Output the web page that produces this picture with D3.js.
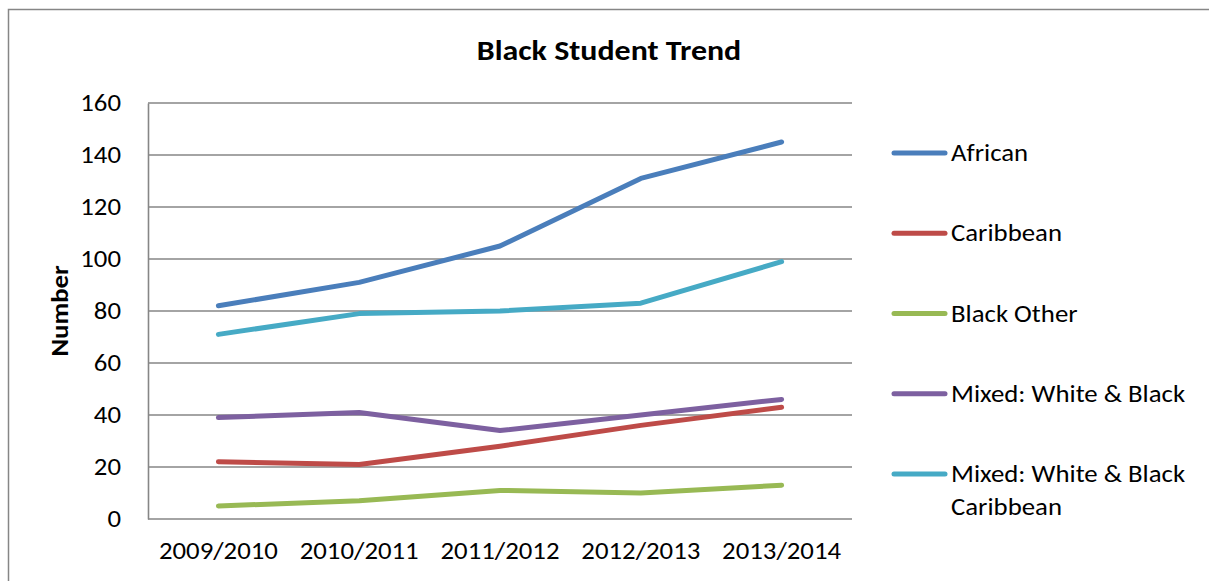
<!DOCTYPE html>
<html>
<head>
<meta charset="utf-8">
<script src="https://cdn.jsdelivr.net/npm/d3@7"></script>
<style>
  html, body { margin: 0; padding: 0; background: #fff; }
  svg text { font-family: Carlito, Calibri, Lato, sans-serif; fill: #000; }
</style>
</head>
<body>
<svg id="chart" width="1209" height="581"></svg>
<script>
/* ===== Data ===== */
const years = ["2009/2010", "2010/2011", "2011/2012", "2012/2013", "2013/2014"];
const seriesNames = ["African", "Caribbean", "Black Other", "Mixed: White & Black", "Mixed: White & Black Caribbean"];
const african = [82, 91, 105, 131, 145];
const caribbean = [22, 21, 28, 36, 43];
const blackOther = [5, 7, 11, 10, 13];
const mixedWB = [39, 41, 34, 40, 46];
const mixedWBC = [71, 79, 80, 83, 99];
const yTicks = [0, 20, 40, 60, 80, 100, 120, 140, 160];
const colors = ["#4a7ebb", "#be4b48", "#98b954", "#7d60a0", "#46aac5"];

const allSeries = [african, caribbean, blackOther, mixedWB, mixedWBC].map((vals, i) => ({
  name: seriesNames[i], color: colors[i], values: vals
}));

/* ===== Layout ===== */
const svg = d3.select("#chart");
const plot = { left: 148, right: 852, top: 103, bottom: 519 };
const FONT = "Carlito, Calibri, Lato, sans-serif";
const FS = 23.5;
const STRETCH = 1.14; // the source picture is a little wider than tall

// outer chart border
svg.append("rect")
  .attr("x", 8.5).attr("y", 9.5)
  .attr("width", 1240).attr("height", 620)
  .attr("fill", "none")
  .attr("stroke", "#868686")
  .attr("stroke-width", 1.5);

const x = d3.scaleBand().domain(years).range([plot.left, plot.right]);
const y = d3.scaleLinear().domain([0, 160]).range([plot.bottom, plot.top]);

// gridlines
svg.append("g")
  .selectAll("line")
  .data(yTicks)
  .join("line")
  .attr("x1", plot.left).attr("x2", plot.right)
  .attr("y1", d => y(d)).attr("y2", d => y(d))
  .attr("stroke", "#868686")
  .attr("stroke-width", 1.6);

// y axis
const yAxis = svg.append("g")
  .attr("transform", `translate(${plot.left},0)`)
  .call(d3.axisLeft(y).tickValues(yTicks).tickSize(0).tickPadding(27));
yAxis.select(".domain").attr("stroke", "#868686").attr("stroke-width", 1.6);
yAxis.selectAll("text").attr("font-size", FS).style("font-family", FONT);

// x axis
const xAxis = svg.append("g")
  .attr("transform", `translate(0,${plot.bottom})`)
  .call(d3.axisBottom(x).tickSize(0).tickPadding(23));
xAxis.select(".domain").remove();
xAxis.selectAll("text").attr("font-size", FS).style("font-family", FONT);

// lines
const line = d3.line()
  .x((d, i) => x(years[i]) + x.bandwidth() / 2)
  .y(d => y(d));

svg.append("g")
  .selectAll("path")
  .data(allSeries)
  .join("path")
  .attr("d", d => line(d.values))
  .attr("fill", "none")
  .attr("stroke", d => d.color)
  .attr("stroke-width", 5)
  .attr("stroke-linecap", "round")
  .attr("stroke-linejoin", "round");

// title
svg.append("text")
  .attr("x", 609).attr("y", 60)
  .attr("text-anchor", "middle")
  .attr("font-size", 28)
  .attr("font-weight", "bold")
  .text("Black Student Trend");

// y title
svg.append("text")
  .attr("transform", `translate(68,${(plot.top + plot.bottom) / 2}) rotate(-90)`)
  .attr("text-anchor", "middle")
  .attr("font-size", FS)
  .attr("font-weight", "bold")
  .text("Number");

/* ===== Legend ===== */
const legendY = d3.scalePoint().domain(seriesNames).range([153, 474]);
const legend = svg.append("g")
  .selectAll("g")
  .data(allSeries)
  .join("g")
  .attr("transform", d => `translate(0,${legendY(d.name)})`);

legend.append("line")
  .attr("x1", 894).attr("x2", 945)
  .attr("stroke", d => d.color)
  .attr("stroke-width", 5)
  .attr("stroke-linecap", "round");

legend.append("text")
  .attr("x", 951)
  .attr("y", 8)
  .attr("font-size", FS)
  .each(function (d) {
    const t = d3.select(this);
    if (d.name === "Mixed: White & Black Caribbean") {
      t.append("tspan").attr("x", 951).text("Mixed: White & Black");
      t.append("tspan").attr("x", 951).attr("dy", 33).text("Caribbean");
    } else {
      t.append("tspan").text(d.name);
    }
  });

// widen text a bit to match the source proportions
svg.selectAll("text").each(function () {
  const el = d3.select(this);
  const spans = el.selectAll("tspan");
  if (spans.empty()) {
    const w = this.getComputedTextLength();
    el.attr("textLength", w * STRETCH).attr("lengthAdjust", "spacingAndGlyphs");
  } else {
    spans.each(function () {
      const w = this.getComputedTextLength();
      d3.select(this).attr("textLength", w * STRETCH).attr("lengthAdjust", "spacingAndGlyphs");
    });
  }
});
</script>
</body>
</html>
